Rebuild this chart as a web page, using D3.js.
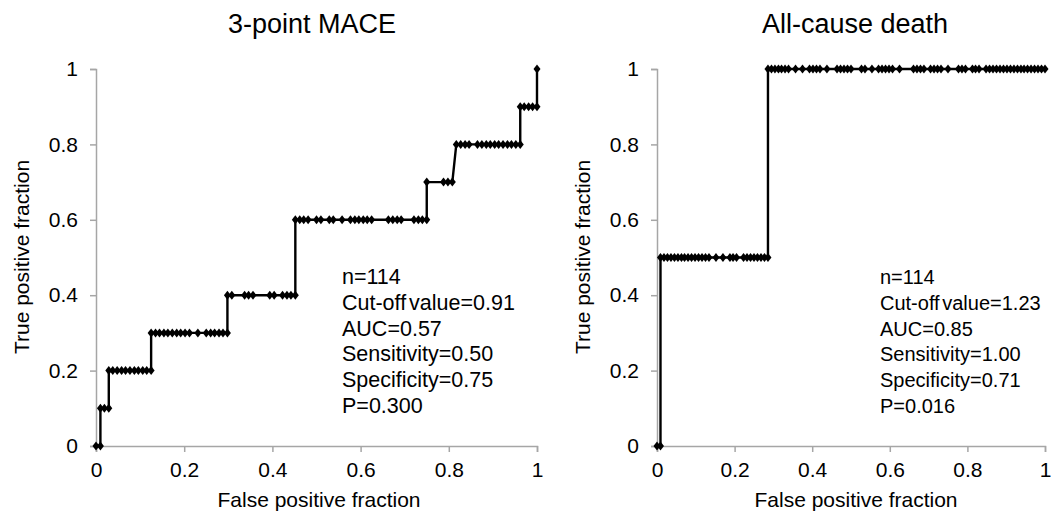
<!DOCTYPE html>
<html>
<head>
<meta charset="utf-8">
<script src="https://cdn.jsdelivr.net/npm/d3@7"></script>
<style>
  body { margin: 0; background: #fff; }
  svg text { font-family: "Liberation Sans", Arial, sans-serif; fill: #000; }
</style>
</head>
<body>
<svg id="chart" width="1051" height="518"></svg>
<script>
// 3-point MACE: FPR values of the points on each TPR level
const maceTpr = [0, 0.1, 0.2, 0.3, 0.4, 0.6, 0.7, 0.8, 0.9, 1];
const maceFpr = [
  [0, .010],
  [.010, .019, .029],
  [.029, .038, .048, .058, .067, .077, .087, .096, .106, .115, .125],
  [.125, .135, .144, .154, .163, .173, .183, .192, .202, .212, .231, .250, .260, .269, .279, .288, .298],
  [.298, .308, .337, .346, .356, .394, .404, .423, .433, .442, .452],
  [.452, .462, .471, .481, .500, .510, .529, .538, .558, .577, .587, .596, .606, .615, .625, .663, .673, .683, .692, .721, .731, .740, .750],
  [.750, .788, .798, .808],
  [.817, .827, .837, .846, .865, .875, .885, .894, .904, .913, .923, .933, .942, .952, .962],
  [.962, .971, .981, .990, 1],
  [1]
];

// All-cause death
const deathTpr = [0, 0.5, 1];
const deathFpr = [
  [0, .009],
  [.009, .018, .027, .036, .045, .054, .063, .071, .080, .089, .098, .107, .116, .125, .134, .152, .170, .188, .196, .205, .223, .232, .241, .250, .259, .268, .277, .286],
  [.286, .295, .304, .313, .321, .330, .339, .357, .375, .393, .402, .411, .420, .438, .464, .473, .482, .491, .500, .527, .536, .554, .571, .580, .589, .598, .607, .625, .661, .670, .679, .688, .705, .714, .723, .732, .750, .777, .786, .795, .813, .821, .830, .848, .857, .866, .875, .884, .893, .902, .911, .920, .929, .938, .946, .955, .964, .973, .982, .991, 1]
];

const ticks = [0, 0.2, 0.4, 0.6, 0.8, 1];
const maceStats = ["n=114", "Cut-off value=0.91", "AUC=0.57", "Sensitivity=0.50", "Specificity=0.75", "P=0.300"];
const deathStats = ["n=114", "Cut-off value=1.23", "AUC=0.85", "Sensitivity=1.00", "Specificity=0.71", "P=0.016"];

const svg = d3.select("#chart");

function flatten(tprs, fprs) {
  let pts = [];
  tprs.forEach((t, i) => {
    fprs[i].forEach(f => pts.push({x: f, y: t}));
  });
  return pts;
}

function drawPanel(opts) {
  let x = d3.scaleLinear().domain([0, 1]).range([opts.x0, opts.x1]);
  let y = d3.scaleLinear().domain([0, 1]).range([446, 69]);
  let g = svg.append("g");

  // axes
  let xAxis = g.append("g")
    .attr("transform", `translate(0,${y(0)})`)
    .call(d3.axisBottom(x).tickValues(ticks).tickFormat(d3.format("~g")).tickSizeOuter(0).tickSize(6).tickPadding(10));
  let yAxis = g.append("g")
    .attr("transform", `translate(${x(0)},0)`)
    .call(d3.axisLeft(y).tickValues(ticks).tickFormat(d3.format("~g")).tickSizeOuter(0).tickSize(6).tickPadding(12));
  [xAxis, yAxis].forEach(a => {
    a.select(".domain").attr("stroke", "#a6a6a6").attr("stroke-width", 1.5);
    a.selectAll(".tick line").attr("stroke", "#a6a6a6").attr("stroke-width", 1.5);
    a.selectAll(".tick text").attr("font-size", 21).attr("fill", "#000")
      .style("font-family", "'Liberation Sans', Arial, sans-serif");
  });

  let pts = flatten(opts.tpr, opts.fpr);

  g.append("path")
    .datum(pts)
    .attr("d", d3.line().x(d => x(d.x)).y(d => y(d.y)))
    .attr("fill", "none")
    .attr("stroke", "#000")
    .attr("stroke-width", 2.4);

  g.selectAll(".pt")
    .data(pts)
    .enter()
    .append("path")
    .attr("class", "pt")
    .attr("d", "M0,-4.5L3.5,0L0,4.5L-3.5,0Z")
    .attr("transform", d => `translate(${x(d.x)},${y(d.y)})`)
    .attr("fill", "#000");

  // titles
  g.append("text")
    .attr("x", opts.titleX).attr("y", 33)
    .attr("text-anchor", "middle")
    .attr("font-size", 27)
    .text(opts.title);
  g.append("text")
    .attr("x", opts.xTitleX).attr("y", 507)
    .attr("text-anchor", "middle")
    .attr("font-size", 21)
    .text("False positive fraction");
  g.append("text")
    .attr("transform", `translate(${opts.x0 - 67},257) rotate(-90)`)
    .attr("text-anchor", "middle")
    .attr("font-size", 21)
    .text("True positive fraction");

  // the cut-off line has Excel's tight word gap
  g.selectAll(".stat")
    .data(opts.stats)
    .enter()
    .append("text")
    .attr("x", opts.statX)
    .attr("y", (d, i) => 284 + i * 25.8)
    .attr("font-size", opts.statSize)
    .attr("word-spacing", -3)
    .text(d => d);
}

drawPanel({x0: 96, x1: 537, titleX: 312, xTitleX: 319, title: "3-point MACE", tpr: maceTpr, fpr: maceFpr, stats: maceStats, statX: 342, statSize: 21.5});
drawPanel({x0: 657, x1: 1045, titleX: 855, xTitleX: 856, title: "All-cause death", tpr: deathTpr, fpr: deathFpr, stats: deathStats, statX: 880, statSize: 20});
</script>
</body>
</html>
